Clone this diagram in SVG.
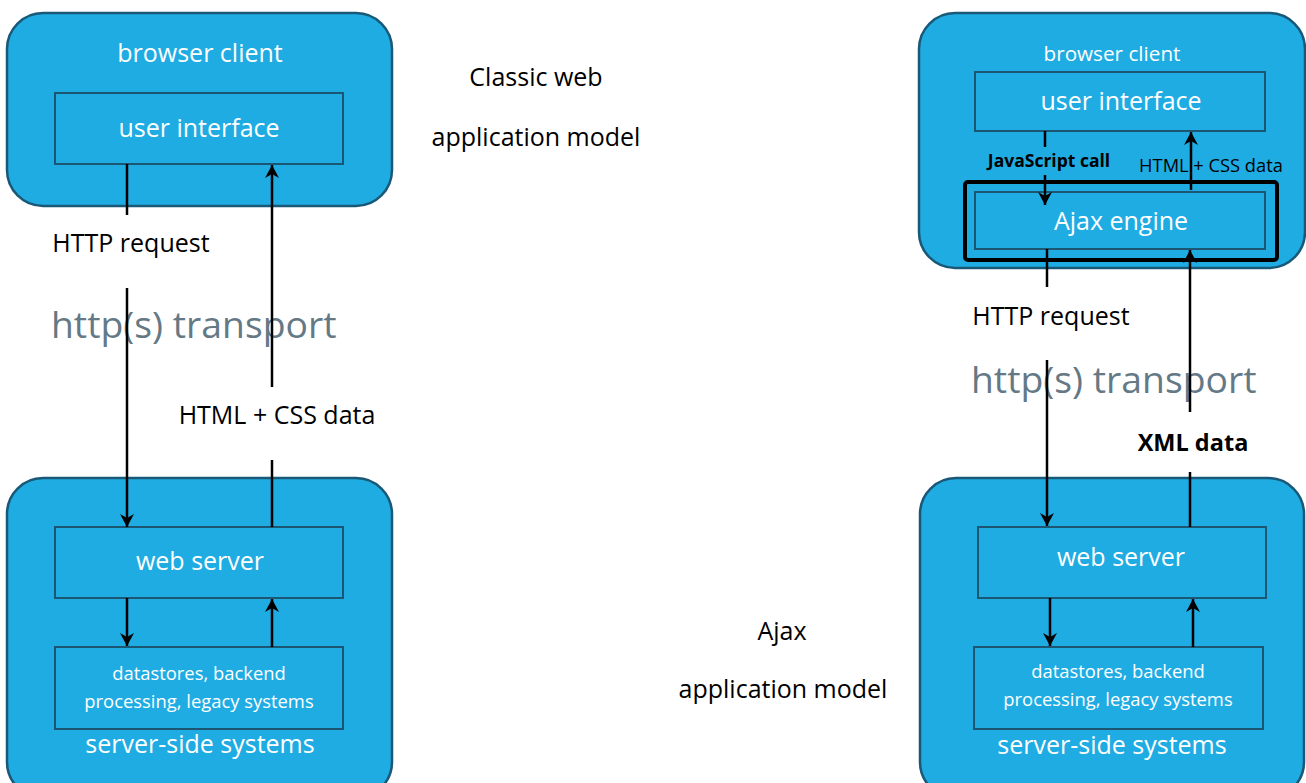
<svg xmlns="http://www.w3.org/2000/svg" width="1306" height="783" viewBox="0 0 1306 783">
<style>
text{font-family:"Open Sans","Liberation Sans",sans-serif;text-anchor:middle}
.outer{fill:#1eace3;stroke:#1a5877;stroke-width:2.5}
.inner{fill:#1eace3;stroke:#1b5673;stroke-width:2}
.w{fill:#ffffff;font-size:25px}
.ws{fill:#ffffff;font-size:18.4px}
.k{fill:#000000;font-size:25px}
.g{fill:#647985;font-size:37.3px;text-anchor:start}
.b{font-weight:bold}
.ln{stroke:#000;stroke-width:2.5;fill:none}
.arr{stroke:#000;stroke-width:2.5;fill:none;marker-end:url(#ah)}
</style>
<defs>
<marker id="ah" markerUnits="userSpaceOnUse" viewBox="0 0 14 15" markerWidth="14" markerHeight="15" refX="13" refY="7.5" orient="auto">
<path d="M0,0.5 L13,7.5 L0,14.5 L4,7.5 z" fill="#000"/>
</marker>
</defs>
<rect width="1306" height="783" fill="#ffffff"/>

<g id="classic-browser-client">
<rect class="outer" x="7" y="13" width="385" height="193" rx="36"/>
<text class="w" x="200" y="62">browser client</text>
</g>
<g id="classic-user-interface">
<rect class="inner" x="55" y="93" width="288" height="71"/>
<text class="w" x="199" y="137">user interface</text>
</g>
<g id="classic-server-side">
<rect class="outer" x="7" y="478" width="385" height="320" rx="36"/>
<text class="w" x="200" y="753">server-side systems</text>
</g>
<g id="classic-web-server">
<rect class="inner" x="55" y="527" width="288" height="71"/>
<text class="w" x="200" y="570">web server</text>
</g>
<g id="classic-datastores">
<rect class="inner" x="55" y="647" width="288" height="82"/>
<text class="ws" x="199" y="680">datastores, backend</text>
<text class="ws" x="199" y="708">processing, legacy systems</text>
</g>

<g id="ajax-browser-client">
<rect class="outer" x="919" y="13" width="386" height="255" rx="36"/>
<text class="w" x="1112" y="61" style="font-size:20.7px">browser client</text>
</g>
<g id="ajax-user-interface">
<rect class="inner" x="975" y="72" width="290" height="59"/>
<text class="w" x="1121" y="110">user interface</text>
</g>
<g id="ajax-engine">
<rect x="965" y="182" width="312" height="78" rx="3" fill="none" stroke="#000" stroke-width="4"/>
<rect class="inner" x="975" y="192" width="290" height="57"/>
<text class="w" x="1121" y="230">Ajax engine</text>
</g>
<g id="ajax-server-side">
<rect class="outer" x="920" y="478" width="384" height="320" rx="36"/>
<text class="w" x="1112" y="754">server-side systems</text>
</g>
<g id="ajax-web-server">
<rect class="inner" x="978" y="527" width="288" height="71"/>
<text class="w" x="1121" y="566">web server</text>
</g>
<g id="ajax-datastores">
<rect class="inner" x="974" y="647" width="289" height="82"/>
<text class="ws" x="1118" y="678">datastores, backend</text>
<text class="ws" x="1118" y="706">processing, legacy systems</text>
</g>

<g id="labels">
<text class="k" x="536" y="86">Classic web</text>
<text class="k" x="536" y="146">application model</text>
<text class="k" x="782" y="640">Ajax</text>
<text class="k" x="783" y="698">application model</text>
<text class="k" x="131" y="252">HTTP request</text>
<text class="g" x="51" y="338">http(s) transport</text>
<text class="k" x="277" y="424">HTML + CSS data</text>
<text class="k" x="1051" y="325">HTTP request</text>
<text class="g" x="971" y="393">http(s) transport</text>
<text class="k b" x="1193" y="451" style="font-size:23.5px">XML data</text>
<text class="k b" x="1049" y="167" style="font-size:17.5px">JavaScript call</text>
<text class="k" x="1211" y="172" style="font-size:18.3px">HTML + CSS data</text>
</g>

<g id="connectors">
<line class="ln" x1="127" y1="164" x2="127" y2="215"/>
<line class="arr" x1="127" y1="288" x2="127" y2="527"/>
<line class="ln" x1="272" y1="460" x2="272" y2="527"/>
<line class="arr" x1="272" y1="387" x2="272" y2="165"/>
<line class="arr" x1="127" y1="598" x2="127" y2="646"/>
<line class="arr" x1="272" y1="647" x2="272" y2="599"/>

<line class="ln" x1="1045" y1="131" x2="1045" y2="147"/>
<line class="arr" x1="1045" y1="175" x2="1045" y2="205"/>
<line class="arr" x1="1191" y1="190" x2="1191" y2="132"/>
<line class="ln" x1="1047" y1="249" x2="1047" y2="287"/>
<line class="arr" x1="1047" y1="360" x2="1047" y2="526"/>
<line class="arr" x1="1190" y1="412" x2="1190" y2="250"/>
<line class="ln" x1="1190" y1="472" x2="1190" y2="527"/>
<line class="arr" x1="1050" y1="598" x2="1050" y2="646"/>
<line class="arr" x1="1193" y1="647" x2="1193" y2="599"/>
</g>
</svg>
